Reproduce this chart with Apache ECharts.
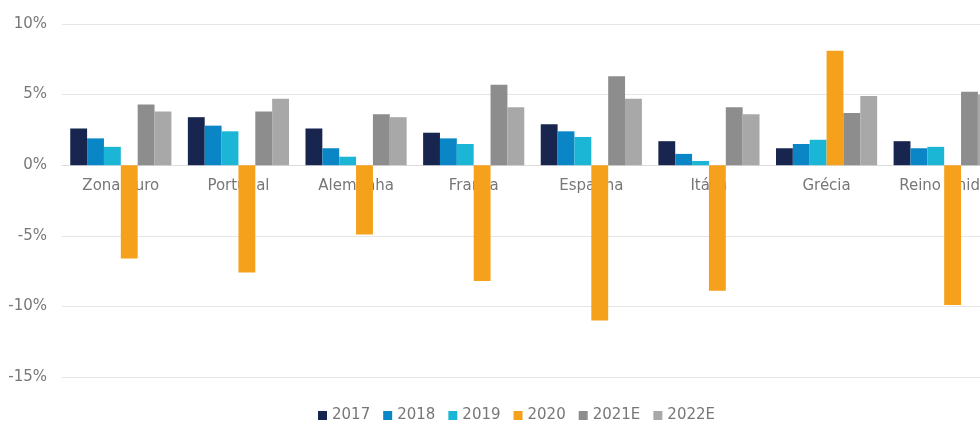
<!DOCTYPE html>
<html>
<head>
<meta charset="utf-8">
<script src="https://cdn.jsdelivr.net/npm/echarts@6/dist/echarts.min.js"></script>
<style>
  html, body { margin: 0; padding: 0; background: #fff; }
  #chart { width: 980px; height: 423px; }
</style>
</head>
<body>
<div id="chart"></div>
<script>
  var countries = ['Zona Euro', 'Portugal', 'Alemanha', 'França', 'Espanha', 'Itália', 'Grécia', 'Reino Unido']
  var years = ['2017', '2018', '2019', '2020', '2021E', '2022E']
  var v2017 = [2.6, 3.4, 2.6, 2.3, 2.9, 1.7, 1.2, 1.7]
  var v2018 = [1.9, 2.8, 1.2, 1.9, 2.4, 0.8, 1.5, 1.2]
  var v2019 = [1.3, 2.4, 0.6, 1.5, 2.0, 0.3, 1.8, 1.3]
  var v2020 = [-6.6, -7.6, -4.9, -8.2, -11.0, -8.9, 8.1, -9.9]
  var v2021 = [4.3, 3.8, 3.6, 5.7, 6.3, 4.1, 3.7, 5.2]
  var v2022 = [3.8, 4.7, 3.4, 4.1, 4.7, 3.6, 4.9, 5.0]
  var yTicks = [-15, -10, -5, 0, 5, 10]

  var colors = ['#18264f', '#0a85c6', '#1bb6d6', '#f5a11c', '#8d8d8d', '#a8a8a8']
  var values = [v2017, v2018, v2019, v2020, v2021, v2022]

  var myChart = echarts.init(document.getElementById('chart'))
  myChart.setOption({
    animation: false,
    color: colors,
    textStyle: { fontFamily: 'DejaVu Sans, sans-serif' },
    legend: {
      data: years,
      left: 313,
      top: 403,
      itemWidth: 9,
      itemHeight: 9,
      itemGap: 13,
      icon: 'rect',
      textStyle: { color: '#777', fontSize: 15 }
    },
    grid: {
      left: 62,
      right: -23,   // chart runs off the right edge, like the source crop
      top: 24,
      bottom: 46,
      outerBoundsMode: 'none'
    },
    xAxis: {
      type: 'category',
      data: countries,
      position: 'bottom',
      // the category axis sits on the 0% line
      offset: -212,
      axisLine: { onZero: false, lineStyle: { color: '#dcdcdc' } },
      axisTick: { show: false },
      axisLabel: { color: '#777', fontSize: 15, margin: 14, interval: 0 }
    },
    yAxis: {
      type: 'value',
      min: yTicks[0],
      max: yTicks[yTicks.length - 1],
      interval: 5,
      axisLine: { show: false },
      axisTick: { show: false },
      axisLabel: { color: '#777', fontSize: 15, margin: 15, formatter: '{value}%' },
      splitLine: { lineStyle: { color: '#e6e6e6' } }
    },
    series: years.map(function (y, i) {
      return {
        name: y,
        type: 'bar',
        data: values[i],
        barGap: '0%',
        barCategoryGap: '14%'
      }
    })
  })
</script>
</body>
</html>
